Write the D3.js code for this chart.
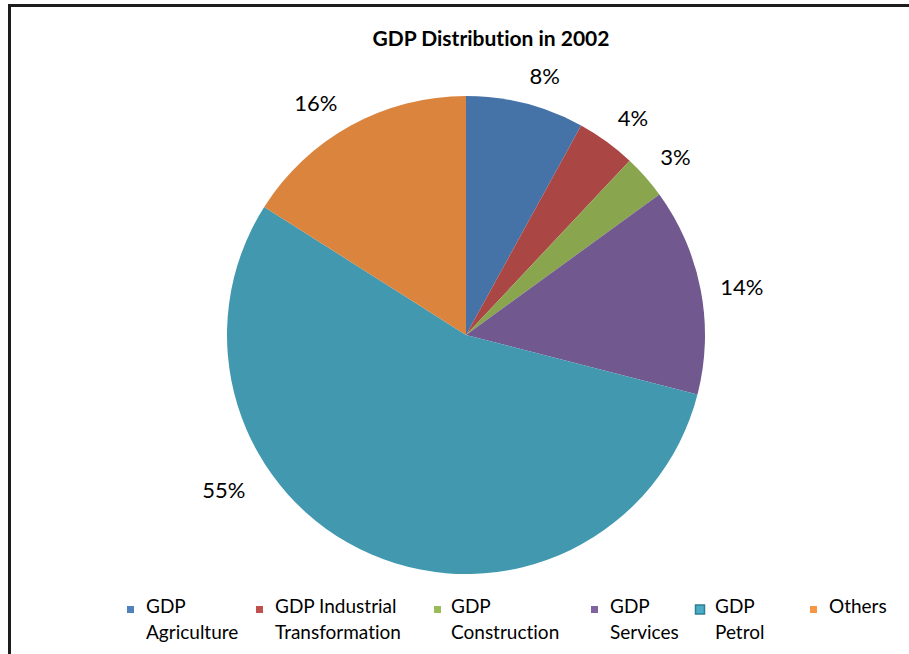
<!DOCTYPE html>
<html>
<head>
<meta charset="utf-8">
<script src="https://cdn.jsdelivr.net/npm/d3@7"></script>
<style>
  html, body { margin: 0; padding: 0; background: #fff; }
  svg { display: block; }
  text { font-family: Lato, "Open Sans", sans-serif; fill: #000; font-variant-ligatures: none; }
</style>
</head>
<body>
<svg id="chart" width="909" height="654"></svg>
<script>
// GDP shares in 2002 (percent)
const categories = ["GDP Agriculture", "GDP Industrial Transformation", "GDP Construction", "GDP Services", "GDP Petrol", "Others"];
const legendLines = [["GDP", "Agriculture"], ["GDP Industrial", "Transformation"], ["GDP", "Construction"], ["GDP", "Services"], ["GDP", "Petrol"], ["Others"]];
const shares = [8, 4, 3, 14, 55, 16];
const sliceColors = ["#4572A7", "#AA4643", "#89A54E", "#71588F", "#4198AF", "#DB843D"];
const keyColors = ["#4F81BD", "#C0504D", "#9BBB59", "#8064A2", "#4BACC6", "#F79646"];
const title = "GDP Distribution in 2002";

const svg = d3.select("#chart");
const W = 909, H = 654;
const cx = 466, cy = 335, R = 239;

// outer frame
svg.append("rect")
  .attr("x", 9.5).attr("y", 5.5)
  .attr("width", W + 20).attr("height", H + 20)
  .attr("fill", "none").attr("stroke", "#1c1c1c").attr("stroke-width", 3);

// title
svg.append("text")
  .attr("x", 491).attr("y", 46)
  .attr("text-anchor", "middle")
  .attr("font-size", 21).attr("font-weight", "bold")
  .text(title);

const pie = d3.pie().sort(null).value(d => d)(shares);
const arc = d3.arc().innerRadius(0).outerRadius(R);

const g = svg.append("g").attr("transform", `translate(${cx},${cy})`);
g.selectAll("path.slice")
  .data(pie)
  .join("path")
  .attr("class", "slice")
  .attr("d", arc)
  .attr("fill", (d, i) => sliceColors[i]);

// percentage labels just outside each slice
const labelShift = [2.5, 1.5, 1, 0.8, 34, -4]; // degrees, to keep labels clear of each other
const gap = 18;
const labels = g.selectAll("text.pct")
  .data(pie)
  .join("text")
  .attr("class", "pct")
  .attr("font-size", 22)
  .attr("text-anchor", "middle")
  .attr("dominant-baseline", "central")
  .text(d => d3.format(".0%")(d.value / 100));

labels.each(function(d, i) {
  const w = this.getComputedTextLength();
  const a = (d.startAngle + d.endAngle) / 2 + labelShift[i] * Math.PI / 180;
  const s = Math.sin(a), c = Math.cos(a);
  const extra = d.value > 50 ? 7 : 0; // the large slice's label sits a little farther out
  const dist = R + gap + extra + Math.abs(s) * w / 2 + Math.abs(c) * 10;
  d3.select(this).attr("x", s * dist).attr("y", -c * dist);
});

// legend
const legendX = [127, 256, 434, 591, 696, 810];
const legend = svg.append("g");
const items = legend.selectAll("g.item")
  .data(categories)
  .join("g")
  .attr("class", "item")
  .attr("transform", (d, i) => `translate(${legendX[i]},0)`);

items.append("rect")
  .attr("x", (d, i) => i === 4 ? -0.5 : 0)
  .attr("y", (d, i) => i === 4 ? 605 : 606)
  .attr("width", (d, i) => i === 4 ? 9 : 7)
  .attr("height", (d, i) => i === 4 ? 9 : 7)
  .attr("fill", (d, i) => keyColors[i])
  .attr("stroke", (d, i) => i === 4 ? "#2E7F94" : "none")
  .attr("stroke-width", 1.5);

items.append("text")
  .attr("x", (d, i) => i === 2 ? 17 : 19)
  .attr("y", 613)
  .attr("font-size", 19)
  .selectAll("tspan")
  .data((d, i) => legendLines[i])
  .join("tspan")
  .attr("x", function() { return this.parentNode.getAttribute("x"); })
  .attr("dy", (d, j) => j === 0 ? 0 : 26)
  .text(d => d);
</script>
</body>
</html>
